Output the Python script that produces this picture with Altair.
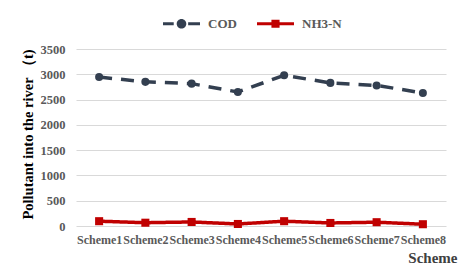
import altair as alt
import pandas as pd

schemes = ["Scheme1", "Scheme2", "Scheme3", "Scheme4", "Scheme5", "Scheme6", "Scheme7", "Scheme8"]
cod = [2945, 2850, 2815, 2650, 2980, 2830, 2780, 2630]
nh3 = [95, 65, 80, 40, 95, 60, 75, 35]
series_names = ["COD", "NH3-N"]
colors = ["#333F50", "#C00000"]
marker_shapes = ["circle", "square"]

rows = []
for s, v in zip(schemes, cod):
    rows.append({"Scheme": s, "series": "COD", "value": v})
for s, v in zip(schemes, nh3):
    rows.append({"Scheme": s, "series": "NH3-N", "value": v})
df = pd.DataFrame(rows)

FONT = "Liberation Serif"

cod_path = ("M-1,-0.08H-0.42V0.08H-1Z "
            "M-0.26,0A0.26,0.26 0 1,0 0.26,0A0.26,0.26 0 1,0 -0.26,0Z "
            "M0.36,-0.08H1V0.08H0.36Z")
nh_path = ("M-1,-0.075H1V0.075H-1Z "
           "M-0.22,-0.22H0.22V0.22H-0.22Z")

legend = alt.Legend(
    title=None,
    orient="none",
    direction="horizontal",
    legendX=87,
    legendY=-44,
    symbolSize=1369,
    symbolType=alt.ExprRef(expr="datum.value === 'COD' ? '" + cod_path + "' : '" + nh_path + "'"),
    symbolStrokeWidth=0,
    symbolOpacity=1,
    labelFont=FONT,
    labelFontWeight="bold",
    labelFontSize=13,
    labelColor="#595959",
    labelOffset=8,
    columnPadding=20,
)

x_enc = alt.X(
    "Scheme:N",
    sort=schemes,
    axis=alt.Axis(
        title="Scheme",
        labelAngle=0,
        labelOverlap=False,
        labelFont=FONT,
        labelFontWeight="bold",
        labelFontSize=12,
        labelColor="#595959",
        labelPadding=8,
        ticks=False,
        domain=False,
        grid=False,
        titleFont=FONT,
        titleFontWeight="bold",
        titleFontSize=15,
        titleColor="#404040",
        titleX=381,
        titleY=31,
        titleAlign="right",
        titleBaseline="middle",
    ),
)
y_enc = alt.Y(
    "value:Q",
    scale=alt.Scale(domain=[0, 3500], nice=False),
    axis=alt.Axis(
        title="Pollutant into the river （t)",
        values=[0, 500, 1000, 1500, 2000, 2500, 3000, 3500],
        format="d",
        labelFont=FONT,
        labelFontWeight="bold",
        labelFontSize=12.5,
        labelColor="#595959",
        labelPadding=11,
        ticks=False,
        domain=False,
        grid=True,
        gridColor="#D9D9D9",
        gridWidth=1,
        titleFont=FONT,
        titleFontWeight="bold",
        titleFontSize=14.5,
        titleColor="#000000",
        titleX=-48,
        titleY=85,
        titleAlign="center",
        titleBaseline="middle",
        titleAngle=270,
    ),
)
color_enc = alt.Color("series:N", scale=alt.Scale(domain=series_names, range=colors), legend=legend)

base = alt.Chart(df)
lines = base.mark_line(strokeWidth=3.5).encode(
    x=x_enc,
    y=y_enc,
    color=color_enc,
    strokeDash=alt.StrokeDash("series:N", scale=alt.Scale(domain=series_names, range=[[13, 9], [1, 0]]), legend=None),
)
point_layers = []
for name, shp in zip(series_names, marker_shapes):
    point_layers.append(
        base.transform_filter(alt.datum.series == name)
        .mark_point(filled=True, opacity=1, size=65, shape=shp)
        .encode(x=x_enc, y=y_enc, color=color_enc)
    )

chart = alt.layer(lines, *point_layers).properties(
    width=370,
    height=177,
    autosize=alt.AutoSizeParams(type="none"),
    padding={"left": 76, "top": 49, "right": 28, "bottom": 47},
    background="white",
).configure_view(stroke=None)

chart.save("out.html", embed_options={"renderer": "svg", "actions": False})
